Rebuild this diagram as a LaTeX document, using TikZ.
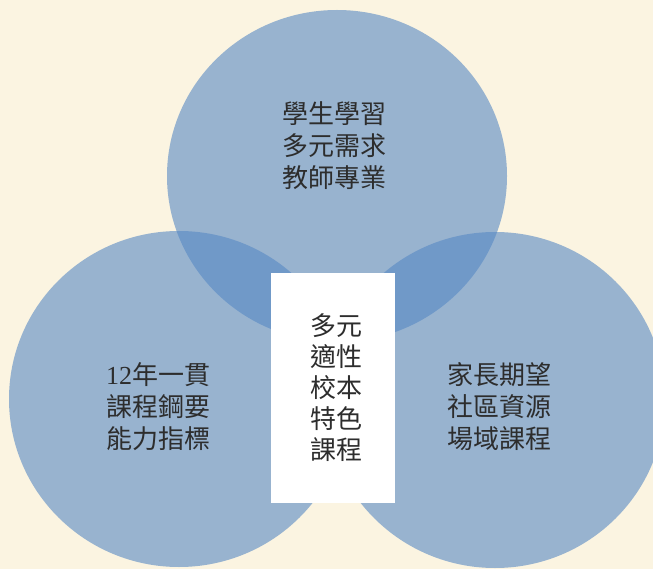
\documentclass[tikz,border=0pt]{standalone}
\usepackage{fontspec}
\setmainfont{Liberation Serif}
\newfontfamily\cjk{Noto Sans CJK TC}

\definecolor{cream}{RGB}{251,244,225}
\definecolor{circblue}{RGB}{86,136,196}
\definecolor{txtgray}{RGB}{45,45,45}

\tikzset{
  bubble/.style={fill=circblue, fill opacity=0.6},
  lbl/.style={align=center, text=txtgray, inner sep=0pt,
    font=\fontsize{26}{32}\selectfont},
  centerbox/.style={fill=white, minimum width=124, minimum height=230,
    inner sep=0pt}
}

\begin{document}
\begin{tikzpicture}[x=1pt,y=1pt,yscale=-1,xscale=1]
\useasboundingbox (0,0) rectangle (653,569);

%Background
\fill [cream] (0,0) rectangle (653,569);
\clip (0,0) rectangle (653,569);

%Circles
\fill [bubble] (337,176) ellipse [x radius=170, y radius=166];
\fill [bubble] (179,399) ellipse [x radius=170, y radius=168];
\fill [bubble] (495,400) ellipse [x radius=170, y radius=168];

%Center box
\node [centerbox] (core) at (333,388) {};

%Labels
\node [lbl] (student) at (334,146) {\cjk 學生學習\\\cjk 多元需求\\\cjk 教師專業};
\node [lbl] (policy) at (158,407) {12\cjk 年一貫\\\cjk 課程鋼要\\\cjk 能力指標};
\node [lbl] (parents) at (499,407) {\cjk 家長期望\\\cjk 社區資源\\\cjk 場域課程};
\node [lbl, text width=60, font=\fontsize{26}{31}\selectfont] (school) at ([xshift=3]core.center) {\cjk 多元\\\cjk 適性\\\cjk 校本\\\cjk 特色\\\cjk 課程};

\end{tikzpicture}
\end{document}
